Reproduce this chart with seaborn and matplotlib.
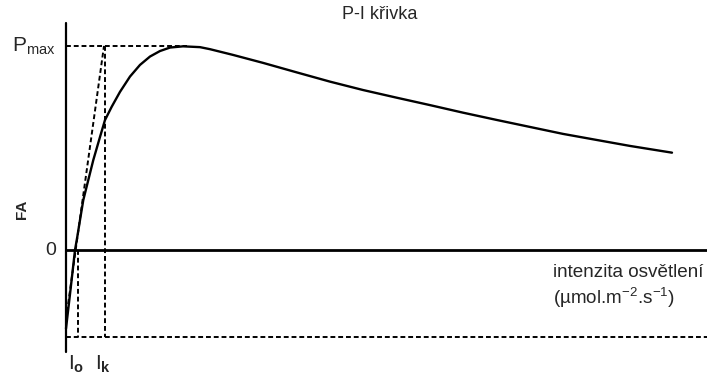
import matplotlib
matplotlib.use("Agg")
import matplotlib.pyplot as plt
import seaborn as sns
import pandas as pd

# P-I curve data (light intensity vs photosynthetic activity)
intensity = [0, 4.5, 9, 11.3, 14, 17.3, 22.3, 27.3, 34, 39, 45.7, 54, 64, 74,
             84, 94, 104, 117, 134, 144, 167, 197, 231, 264, 297, 331, 364,
             397, 431, 464, 497, 531, 564, 606]
fa = [-38.5, -19.5, 0.0, 6.5, 14.7, 24.5, 34.3, 44.1, 55.4, 63.7, 70.2, 77.5,
      85.0, 90.7, 94.8, 97.5, 99.2, 99.8, 99.4, 98.4, 95.6, 91.7, 87.0, 82.5,
      78.4, 74.6, 71.0, 67.3, 63.7, 60.3, 56.9, 53.9, 51.0, 47.7]

P_MAX = 100.0      # maximal photosynthesis
I_K = 39.0         # saturation onset intensity
I_0 = 11.7         # compensation intensity
R_D = -42.8        # dark respiration level
slope_x = [0, 38.0]
slope_y = [-34.0, 100.0]

sns.set_theme(style="white")
plt.rcParams["font.family"] = ["Liberation Sans", "DejaVu Sans"]
plt.rcParams["mathtext.fontset"] = "custom"
plt.rcParams["mathtext.rm"] = "Liberation Sans"
plt.rcParams["mathtext.it"] = "Liberation Sans"
plt.rcParams["mathtext.bf"] = "Liberation Sans:bold"

fig = plt.figure(figsize=(7.07, 3.78), dpi=100)
ax = fig.add_axes([0, 0, 1, 1])
ax.set_xlim(-66, 641)
ax.set_ylim(-62.7, 122.5)
ax.axis("off")

df = pd.DataFrame({"I": intensity, "FA": fa})
sns.lineplot(data=df, x="I", y="FA", ax=ax, color="black", lw=1.7,
             estimator=None, sort=True)
ax.lines[-1].set_solid_joinstyle("round")

# axes lines
ax.plot([0, 0], [-50, 111], color="black", lw=1.6)
ax.plot([0, 641], [0, 0], color="black", lw=2.0)

dash = dict(color="black", lw=1.4, ls=(0, (2.5, 1.5)))
ax.plot([0, 121], [P_MAX, P_MAX], **dash)
ax.plot(slope_x, slope_y, **dash)
ax.plot([I_K, I_K], [P_MAX, R_D], **dash)
ax.plot([I_0, I_0], [0, R_D], **dash)
ax.plot([0, 641], [R_D, R_D], **dash)

# labels
ax.text(-10, P_MAX, r"$\mathrm{P_{max}}$", ha="right", va="center", fontsize=15)
ax.text(-10, 0, "0", ha="right", va="center", fontsize=14)
ax.text(-44, 20, "FA", ha="center", va="center", rotation=90,
        fontsize=11, fontweight="bold")
ax.text(I_0 - 2, -56, r"I$_{\mathbf{o}}$", ha="center", va="center", fontsize=15)
ax.text(I_K - 2, -56, r"I$_{\mathbf{k}}$", ha="center", va="center", fontsize=15)
ax.text(314, 115.2, "P-I křivka", ha="center", va="center", fontsize=13)
ax.text(487, -10.8, "intenzita osvětlení", ha="left", va="center", fontsize=13.6)
ax.text(487, -23.5, r"(µmol.m$^{-2}$.s$^{-1}$)", ha="left", va="center",
        fontsize=13.6)

fig.savefig("out.png", dpi=100)
